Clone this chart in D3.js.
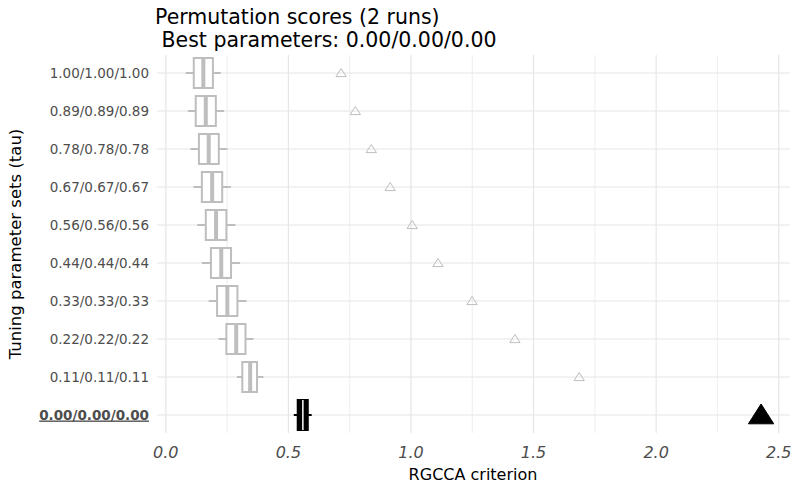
<!DOCTYPE html>
<html><head><meta charset="utf-8">
<script src="https://cdn.jsdelivr.net/npm/d3@7"></script>
<style>body{margin:0;background:#fff;font-family:"DejaVu Sans",sans-serif}</style>
</head><body><svg id="chart" width="799" height="494"></svg>
<script>
const labels = ["1.00/1.00/1.00","0.89/0.89/0.89","0.78/0.78/0.78","0.67/0.67/0.67","0.56/0.56/0.56","0.44/0.44/0.44","0.33/0.33/0.33","0.22/0.22/0.22","0.11/0.11/0.11","0.00/0.00/0.00"];
// [lower whisker, q1, median, q3, upper whisker]
const perm = [
  [0.081,0.114,0.153,0.192,0.224],
  [0.090,0.122,0.163,0.204,0.238],
  [0.100,0.135,0.175,0.216,0.251],
  [0.113,0.147,0.189,0.230,0.265],
  [0.128,0.163,0.205,0.247,0.284],
  [0.147,0.184,0.226,0.266,0.303],
  [0.175,0.209,0.251,0.292,0.329],
  [0.215,0.247,0.287,0.325,0.357],
  [0.290,0.312,0.344,0.372,0.398],
  [0.522,0.538,0.559,0.579,0.595]
];
const crit = [0.715,0.773,0.838,0.915,1.005,1.110,1.249,1.424,1.686,2.428];
const best = "0.00/0.00/0.00";
const xTicks = [0,0.5,1,1.5,2,2.5];

const svg = d3.select("#chart");
const x = d3.scaleLinear().domain([-0.036,2.546]).range([157,790]);
const y = d3.scalePoint().domain(labels).range([73,415]);

const g = svg.append("g");
d3.range(0,2.6,0.25).forEach(v=>{
  g.append("line").attr("x1",x(v)).attr("x2",x(v)).attr("y1",55).attr("y2",433)
    .attr("stroke","#e6e6e6").attr("stroke-width",(v*2)%1===0?1.2:0.7);
});
labels.forEach(l=>{
  g.append("line").attr("x1",157).attr("x2",790).attr("y1",y(l)).attr("y2",y(l))
    .attr("stroke","#e6e6e6").attr("stroke-width",1.2);
});

labels.forEach((l,i)=>{
  const d = perm[i], isBest = l===best, c = isBest?"#000":"#bebebe", cy=y(l), h=15;
  g.append("line").attr("x1",x(d[0])).attr("x2",x(d[1])).attr("y1",cy).attr("y2",cy).attr("stroke",c).attr("stroke-width",2);
  g.append("line").attr("x1",x(d[3])).attr("x2",x(d[4])).attr("y1",cy).attr("y2",cy).attr("stroke",c).attr("stroke-width",2);
  g.append("rect").attr("x",x(d[1])).attr("y",cy-h).attr("width",x(d[3])-x(d[1])).attr("height",2*h)
    .attr("fill",isBest?"#000":"#fff").attr("stroke",c).attr("stroke-width",2);
  g.append("line").attr("x1",x(d[2])).attr("x2",x(d[2])).attr("y1",cy-h).attr("y2",cy+h)
    .attr("stroke",isBest?"#fff":c).attr("stroke-width",isBest?1.5:4);
  const s = isBest?11:4.5;
  g.append("path").attr("d",`M${x(crit[i])},${cy-s}L${x(crit[i])+s*1.15},${cy+s*0.8}L${x(crit[i])-s*1.15},${cy+s*0.8}Z`)
    .attr("fill",isBest?"#000":"none").attr("stroke",isBest?"#000":"#bebebe").attr("stroke-width",1);
});

labels.forEach(l=>{
  const isBest = l===best;
  svg.append("text").attr("x",149).attr("y",y(l)+4.5).attr("text-anchor","end")
    .attr("font-size",13.5).attr("fill","#4d4d4d").attr("font-weight",isBest?"bold":"normal")
    .attr("text-decoration",isBest?"underline":null).text(l);
});
xTicks.forEach(v=>{
  svg.append("text").attr("x",x(v)).attr("y",458).attr("text-anchor","middle")
    .attr("font-size",16).attr("font-style","italic").attr("fill","#4d4d4d").text(v.toFixed(1));
});
svg.append("text").attr("x",473).attr("y",480).attr("text-anchor","middle").attr("font-size",16).text("RGCCA criterion");
svg.append("text").attr("transform","translate(21,244) rotate(-90)").attr("text-anchor","middle").attr("font-size",16.5).text("Tuning parameter sets (tau)");
svg.append("text").attr("x",155).attr("y",24).attr("font-size",20.5).text("Permutation scores (2 runs)");
svg.append("text").attr("x",155).attr("y",47).attr("font-size",20.5).attr("xml:space","preserve").text(" Best parameters: 0.00/0.00/0.00");
</script></body></html>
